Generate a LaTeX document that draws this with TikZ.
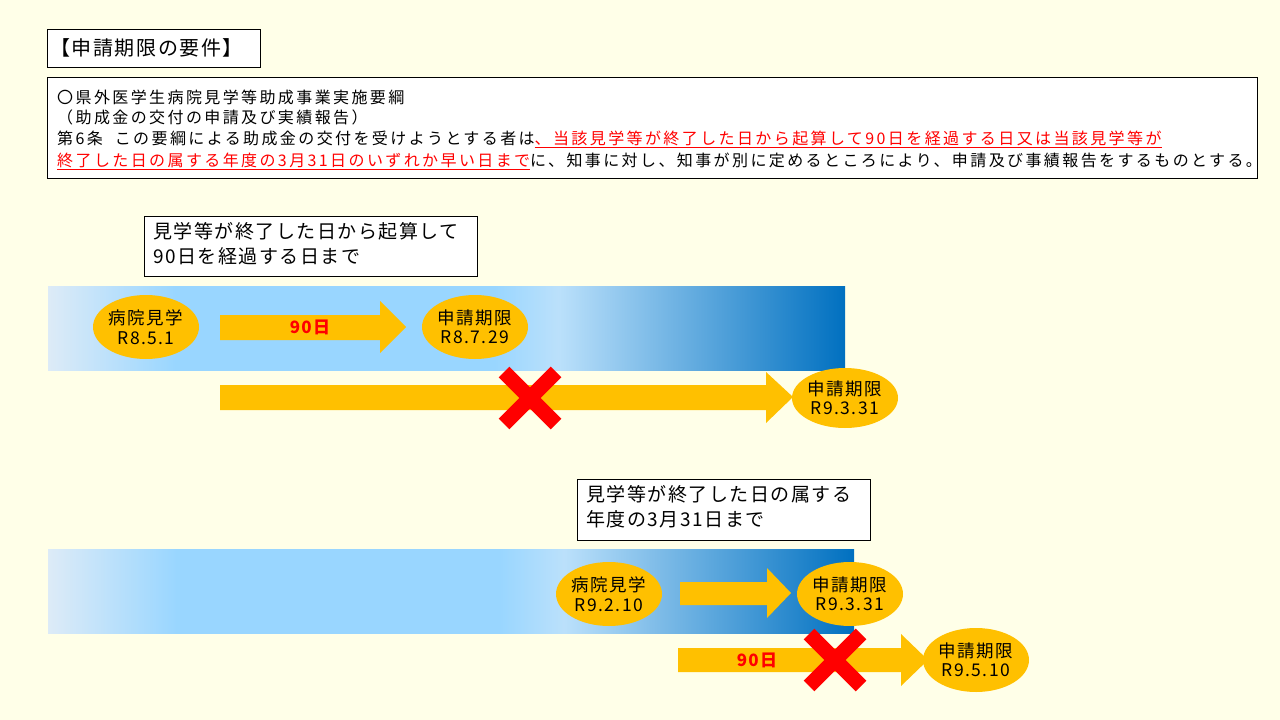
\documentclass[tikz,border=0pt]{standalone}
\usepackage{fontspec}
\setmainfont{Noto Sans CJK JP}[LetterSpace=8]
\newfontfamily\wide{Noto Sans CJK JP}[LetterSpace=15]
\usetikzlibrary{shapes.geometric}
\definecolor{bg}{HTML}{FFFFE8}
\definecolor{org}{HTML}{FFC000}
\definecolor{rd}{HTML}{FF0000}
\definecolor{ba}{HTML}{DDEBF7}
\definecolor{bb}{HTML}{99D6FF}
\definecolor{bc}{HTML}{0070C0}
\pgfdeclarehorizontalshading{barsh}{100bp}{color(0bp)=(ba); color(25bp)=(ba); color(33bp)=(bb); color(53bp)=(bb); color(57bp)=(ba!50!bb); color(75bp)=(bc); color(100bp)=(bc)}
\tikzset{
  ov/.style={ellipse, fill=org, minimum width=106, minimum height=64, inner sep=0, align=center, font=\fontsize{17.5}{19.5}\selectfont},
  wbox/.style={draw=black, fill=white, line width=0.8},
  ln/.style={anchor=west, inner sep=0, font=\wide\fontsize{16}{18}\selectfont},
  xx/.style={rd, line width=15},
  arr/.style={fill=org}
}
\begin{document}
\begin{tikzpicture}[x=1pt,y=-1pt]
\useasboundingbox (0,0) rectangle (1280,720);
\fill[bg] (0,0) rectangle (1280,720);
% title
\draw[wbox] (47,29) rectangle (260,67);
\node[anchor=west, inner sep=0, font=\fontsize{20}{22}\selectfont] (title) at (50,48) {【申請期限の要件】};
% text box
\draw[wbox] (47,77) rectangle (1257,178);
\node[ln] (l1) at (57,97) {〇県外医学生病院見学等助成事業実施要綱};
\node[ln] (l2) at (57,117) {（助成金の交付の申請及び実績報告）};
\node[ln] (l3) at (57,139) {第6条\ \ この要綱による助成金の交付を受けようとする者は{\color{rd}\underline{、当該見学等が終了した日から起算して90日を経過する日又は当該見学等が}}};
\node[ln] (l4) at (57,161) {{\color{rd}\underline{終了した日の属する年度の3月31日のいずれか早い日まで}}に、知事に対し、知事が別に定めるところにより、申請及び事績報告をするものとする。};
% section 1
\draw[wbox] (144,216) rectangle (477,276);
\node[anchor=north west, align=left, inner sep=0, font=\fontsize{19}{25}\selectfont] (b1) at (153,222) {見学等が終了した日から起算して\\90日を経過する日まで};
\shade[shading=barsh] (48,286) rectangle (845,370);
\node[ov] (e1) at (146,327) {病院見学\\R8.5.1};
\fill[arr] (220,315) -- (380,315) -- (380,301) -- (406,327) -- (380,353) -- (380,340) -- (220,340) -- cycle;
\node[text=rd, font=\bfseries\fontsize{17}{19}\selectfont] (t1) at (310,327) {90日};
\node[ov] (e2) at (475,327) {申請期限\\R8.7.29};
\fill[arr] (220,385) -- (766,385) -- (766,372) -- (793,397) -- (766,423) -- (766,410) -- (220,410) -- cycle;
\node[ov, minimum height=60] (e3) at (845,398) {申請期限\\R9.3.31};
\draw[xx] (504,372) -- (556,424) (556,372) -- (504,424);
% section 2
\draw[wbox] (577,479) rectangle (870,540);
\node[anchor=north west, align=left, inner sep=0, font=\fontsize{19}{25}\selectfont] (b2) at (586,485) {見学等が終了した日の属する\\年度の3月31日まで};
\shade[shading=barsh] (48,549) rectangle (854,633);
\node[ov] (e4) at (609,594) {病院見学\\R9.2.10};
\fill[arr] (680,582) -- (767,582) -- (767,568) -- (791,593) -- (767,618) -- (767,605) -- (680,605) -- cycle;
\node[ov] (e5) at (850,594) {申請期限\\R9.3.31};
\fill[arr] (678,648) -- (901,648) -- (901,634) -- (928,660) -- (901,686) -- (901,672) -- (678,672) -- cycle;
\node[text=rd, font=\bfseries\fontsize{17}{19}\selectfont] (t2) at (757,660) {90日};
\node[ov] (e6) at (976,660) {申請期限\\R9.5.10};
\draw[xx] (809,634) -- (861,686) (861,634) -- (809,686);
\end{tikzpicture}
\end{document}
